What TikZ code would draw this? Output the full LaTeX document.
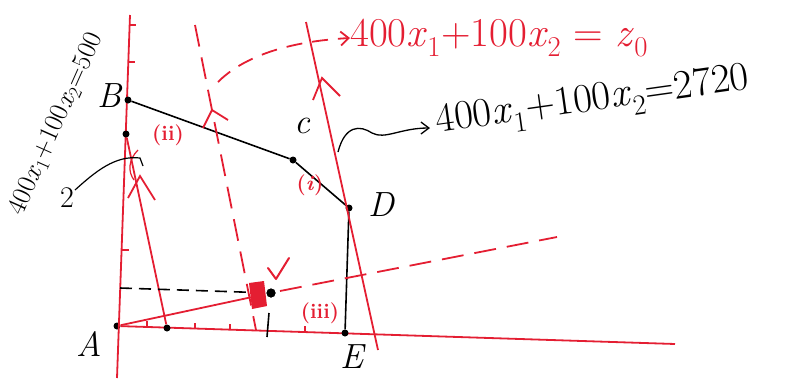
\documentclass[tikz,border=0pt]{standalone}
\usetikzlibrary{arrows.meta}
\definecolor{hred}{RGB}{228,30,50}
\newcommand\vx[1]{\textit{x}\textsubscript{#1}}
\begin{document}
\begin{tikzpicture}[x=1pt,y=-1pt,
  redline/.style={hred,line width=1.8pt},
  reddash/.style={hred,line width=1.8pt,dash pattern=on 22pt off 11pt},
  blk/.style={black,line width=1.6pt},
  blkdash/.style={black,line width=1.6pt,dash pattern=on 12pt off 7pt},
  dot/.style={circle,fill=black,inner sep=0pt,minimum size=7pt},
  lbl/.style={font=\fontsize{35}{37}\selectfont\itshape},
  rlbl/.style={hred,font=\fontsize{21}{23}\selectfont\bfseries},
  eq/.style={font=\fontsize{41}{43}\selectfont},
]
\useasboundingbox (0,0) rectangle (788,378);
% axes
\coordinate (yTop) at (130,15);
\coordinate (yBot) at (117,378);
\coordinate (xEnd) at (675,344);
\node[dot] (A) at (117,326) {};
\draw[redline] (yTop) -- (yBot);
\draw[redline] (A) -- (xEnd);
% ticks
\foreach \yy/\xx in {25/129,62/128,250/122} \draw[hred,line width=1.2pt] (\xx,\yy) -- ++(7,0);
\foreach \xx/\yy in {147/327,195/329,230/330,305/332} \draw[hred,line width=1.2pt] (\xx,\yy) -- ++(0,-6);
% vertices
\node[dot] (B) at (128,100) {};
\node[dot] (C) at (293,160) {};
\node[dot] (D) at (349,208) {};
\node[dot] (E) at (345,333) {};
\node[dot] (P1) at (126,134) {};
\node[dot] (P2) at (167,328) {};
\node[dot,minimum size=9pt] (M) at (271,293) {};
\draw[blk] (B) -- (C) -- (D) -- (E);
% iso line z=500
\draw[redline] (P2) -- (P1);
\draw[redline] (128,198) -- (140,176) -- (155,200);
\draw[hred,line width=1.2pt] (138,150) .. controls (128,160) and (128,172) .. (134,180);
% line (i)
\coordinate (iTop) at (306,22);
\coordinate (iBot) at (378,350);
\draw[redline] (iBot) -- (iTop);
\draw[redline] (313,100) -- (322,78) -- (340,96);
% line (ii)
\coordinate (iiTop) at (195,25);
\coordinate (iiBot) at (256,330);
\draw[reddash] (iiTop) -- (iiBot);
\draw[redline] (203,128) -- (212,110) -- (228,120);
% ray through optimum
\coordinate (rEnd) at (557,237);
\draw[redline] (A) -- (257,296);
\draw[reddash] (280,291) -- (rEnd);
% projection
\coordinate (yProj) at (120,288);
\draw[blkdash] (yProj) -- (M);
\draw[blk] (269,313) -- (267,337);
\fill[hred] (249,283) -- (264,281) -- (267,306) -- (252,309) -- cycle;
\node[dot,minimum size=9pt] at (271,293) {};
\draw[hred,line width=2pt,line cap=round,line join=round] (268,268) -- (276,279) -- (289,258);
% labels
\node[lbl] (lB) at (110,96) {B};
\node[lbl] (lA) at (89,344) {A};
\node[lbl] (lC) at (302,126) {c};
\node[lbl] (lD) at (381,205) {D};
\node[lbl] (lE) at (352,357) {E};
\node[rlbl] (lii) at (168,135) {(ii)};
\node[rlbl] (li) at (310,185) {(\emph{i})};
\node[rlbl] (liii) at (320,313) {(iii)};
% rotated constraint label
\node[rotate=66,font=\fontsize{27}{29}\selectfont,inner sep=0pt] (l500) at (56,124) {400\vx{1}+100\vx{2}=500};
\node[font=\fontsize{30}{32}\selectfont,inner sep=0pt] (l2) at (67,198) {2};
\draw[black,line width=1.2pt] (75,190) .. controls (95,172) and (115,155) .. (140,158) -- (143,166);
% objective label
\node[hred,eq,anchor=west,inner sep=0pt] (lz) at (350,38) {400\vx{1}+100\vx{2} = \textit{z}\textsubscript{0}};
\draw[hred,line width=1.8pt,dash pattern=on 16pt off 10pt,-{Straight Barb[length=8pt,width=14pt]}] (218,82) .. controls (240,60) and (280,42) .. (lz.west);
% optimum label
\node[eq,anchor=west,rotate=8,inner sep=0pt] (l2720) at (436,124) {400\vx{1}+100\vx{2}=2720};
\draw[black,line width=1.3pt,-{Straight Barb[length=8pt,width=12pt]}] (338,152) .. controls (345,125) and (360,125) .. (372,133) .. controls (385,140) and (400,128) .. (430,128);
\end{tikzpicture}
\end{document}
